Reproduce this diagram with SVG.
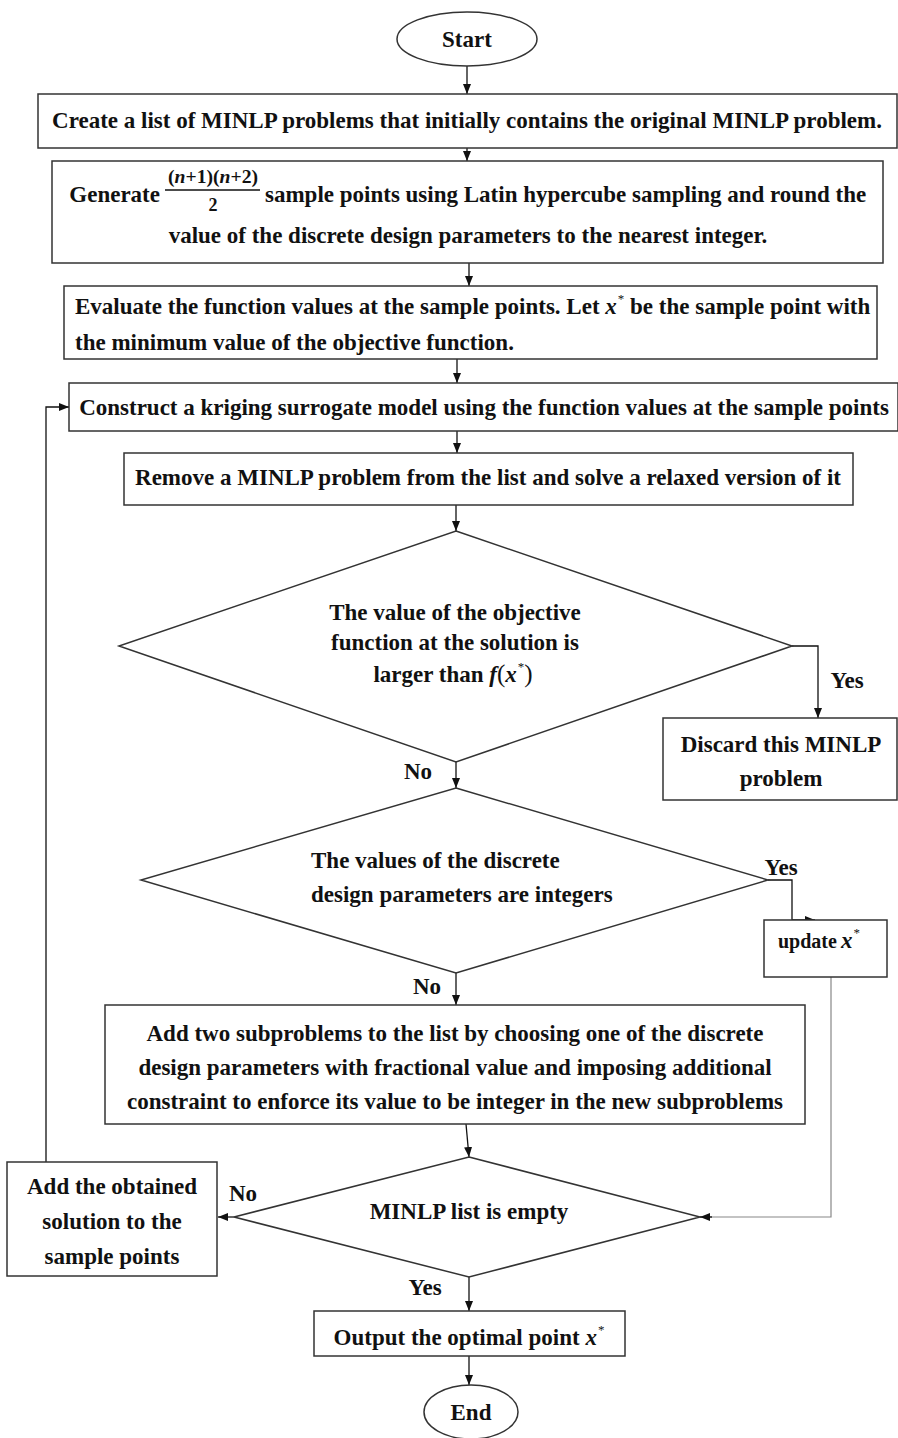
<svg xmlns="http://www.w3.org/2000/svg" width="898" height="1438" viewBox="0 0 898 1438">
<style>
.box{fill:#fff;stroke:#333;stroke-width:1.5}
.t{font-family:"Liberation Serif",serif;font-weight:bold;font-size:23px;fill:#111}
.mid{text-anchor:middle}
.i{font-style:italic}
.s{font-size:13px;font-weight:normal}
.p{font-weight:normal;font-size:25px}
.c{fill:none;stroke:#111;stroke-width:1.3}
.g{fill:none;stroke:#888;stroke-width:1.2}
</style>
<defs>
<marker id="ah" markerUnits="userSpaceOnUse" markerWidth="10" markerHeight="8" refX="10" refY="4" orient="auto">
<path d="M0,0 L10,4 L0,8 z" fill="#111"/>
</marker>
</defs>
<g id="connectors">
<path class="c" d="M467,66 V94" marker-end="url(#ah)"/>
<path class="c" d="M467,148 V161" marker-end="url(#ah)"/>
<path class="c" d="M469,263 V286" marker-end="url(#ah)"/>
<path class="c" d="M457,359 V383" marker-end="url(#ah)"/>
<path class="c" d="M457,431 V453" marker-end="url(#ah)"/>
<path class="c" d="M456,505 V531" marker-end="url(#ah)"/>
<path class="c" d="M792,646 H818 V718" marker-end="url(#ah)"/>
<path class="c" d="M456,762 V788" marker-end="url(#ah)"/>
<path class="c" d="M768,880 H792 V920 H815" marker-end="url(#ah)"/>
<path class="c" d="M456,973 V1005" marker-end="url(#ah)"/>
<path class="g" d="M831,977 V1217 H700"/>
<path class="c" d="M712,1217 H700" marker-end="url(#ah)"/>
<path class="c" d="M466,1124 L469,1157" marker-end="url(#ah)"/>
<path class="c" d="M234,1217 H218" marker-end="url(#ah)"/>
<path class="c" d="M46,1162 V407 H69" marker-end="url(#ah)"/>
<path class="c" d="M469,1277 V1311" marker-end="url(#ah)"/>
<path class="c" d="M469,1356 V1385" marker-end="url(#ah)"/>
<text class="t mid" x="847" y="688">Yes</text>
<text class="t mid" x="418" y="779">No</text>
<text class="t mid" x="781" y="875">Yes</text>
<text class="t mid" x="427" y="994">No</text>
<text class="t mid" x="243" y="1201">No</text>
<text class="t mid" x="425" y="1295">Yes</text>
</g>
<g id="start">
<ellipse class="box" cx="467" cy="39" rx="70" ry="27"/>
<text class="t mid" x="467" y="47">Start</text>
</g>
<g id="create">
<rect class="box" x="38" y="94" width="859" height="54"/>
<text class="t mid" x="467" y="128">Create a list of MINLP problems that initially contains the original MINLP problem.</text>
</g>
<g id="generate">
<rect class="box" x="52" y="161" width="831" height="102"/>
<text class="t" x="160" y="202" text-anchor="end">Generate</text>
<text class="t" x="168" y="183" style="font-size:18px" textLength="90" lengthAdjust="spacingAndGlyphs">(<tspan class="i">n</tspan>+1)(<tspan class="i">n</tspan>+2)</text>
<line x1="165" y1="190" x2="260" y2="190" stroke="#111" stroke-width="1.5"/>
<text class="t mid" x="213" y="211" style="font-size:18px">2</text>
<text class="t" x="265" y="202">sample points using Latin hypercube sampling and round the</text>
<text class="t mid" x="468" y="243">value of the discrete design parameters to the nearest integer.</text>
</g>
<g id="evaluate">
<rect class="box" x="64" y="286" width="813" height="73"/>
<text class="t" x="75" y="314">Evaluate the function values at the sample points. Let <tspan class="i">x</tspan><tspan class="s" dx="1" dy="-11">*</tspan><tspan dy="11"> be the sample point with</tspan></text>
<text class="t" x="75" y="350">the minimum value of the objective function.</text>
</g>
<g id="kriging">
<rect class="box" x="69" y="383" width="829" height="48"/>
<text class="t mid" x="484" y="415">Construct a kriging surrogate model using the function values at the sample points</text>
</g>
<g id="remove">
<rect class="box" x="124" y="453" width="729" height="52"/>
<text class="t mid" x="488" y="485">Remove a MINLP problem from the list and solve a relaxed version of it</text>
</g>
<g id="decision1">
<polygon class="box" points="456,531 792,646 456,762 119,646"/>
<text class="t mid" x="455" y="620">The value of the objective</text>
<text class="t mid" x="455" y="650">function at the solution is</text>
<text class="t mid" x="453" y="682">larger than <tspan class="i">f</tspan><tspan class="p">(</tspan><tspan class="i">x</tspan><tspan class="s" dx="1" dy="-11">*</tspan><tspan class="p" dy="11">)</tspan></text>
</g>
<g id="discard">
<rect class="box" x="663" y="718" width="234" height="82"/>
<text class="t mid" x="781" y="752">Discard this MINLP</text>
<text class="t mid" x="781" y="786">problem</text>
</g>
<g id="decision2">
<polygon class="box" points="456,788 768,880 456,973 141,880"/>
<text class="t" x="311" y="868">The values of the discrete</text>
<text class="t" x="311" y="902">design parameters are integers</text>
</g>
<g id="update">
<rect class="box" x="764" y="920" width="123" height="57"/>
<text class="t" x="778" y="948" style="font-size:20px">update</text>
<text class="t" x="841" y="948"><tspan class="i">x</tspan><tspan class="s" dx="1" dy="-11">*</tspan></text>
</g>
<g id="addtwo">
<rect class="box" x="105" y="1005" width="700" height="119"/>
<text class="t mid" x="455" y="1041">Add two subproblems to the list by choosing one of the discrete</text>
<text class="t mid" x="455" y="1075">design parameters with fractional value and imposing additional</text>
<text class="t mid" x="455" y="1109">constraint to enforce its value to be integer in the new subproblems</text>
</g>
<g id="decision3">
<polygon class="box" points="469,1157 700,1217 469,1277 234,1217"/>
<text class="t mid" x="469" y="1219">MINLP list is empty</text>
</g>
<g id="addobtained">
<rect class="box" x="7" y="1162" width="210" height="114"/>
<text class="t mid" x="112" y="1194">Add the obtained</text>
<text class="t mid" x="112" y="1229">solution to the</text>
<text class="t mid" x="112" y="1264">sample points</text>
</g>
<g id="output">
<rect class="box" x="314" y="1311" width="311" height="45"/>
<text class="t mid" x="469" y="1345">Output the optimal point <tspan class="i">x</tspan><tspan class="s" dx="1" dy="-11">*</tspan></text>
</g>
<g id="end">
<ellipse class="box" cx="471" cy="1412" rx="47" ry="27"/>
<text class="t mid" x="471" y="1420">End</text>
</g>
</svg>
